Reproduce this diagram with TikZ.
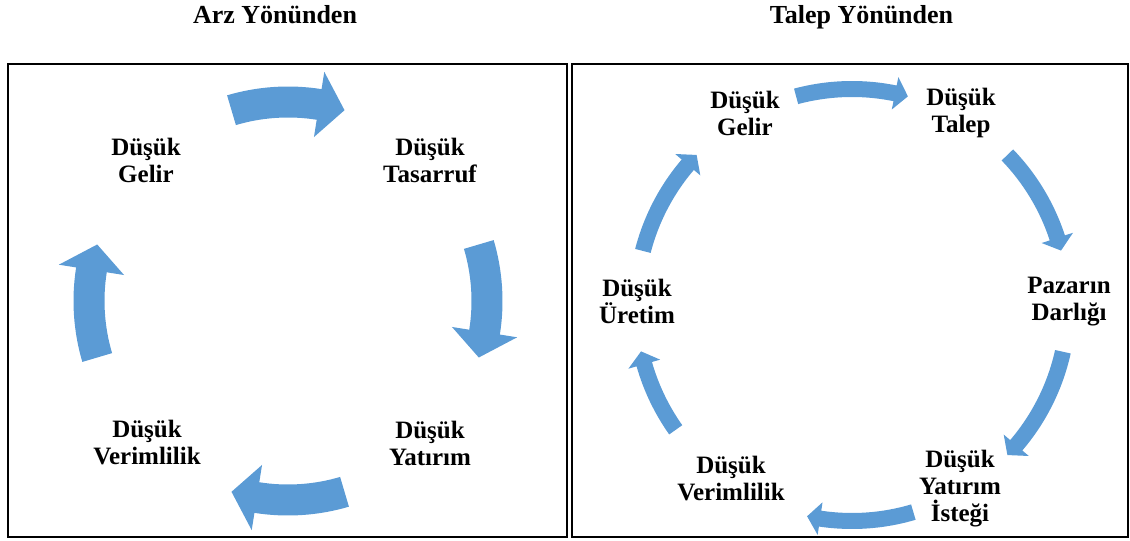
\documentclass[tikz,border=0pt]{standalone}
\usepackage{fontspec}
\setmainfont{Liberation Serif}

\definecolor{cycleblue}{RGB}{91,155,213}

\tikzset{every picture/.style={line width=0.75pt}}
\tikzset{
  cyclearrow/.style={fill=cycleblue},
  panel/.style={draw, line width=1.5pt},
  steplabel/.style={inner sep=0.75pt, align=center, font=\bfseries\fontsize{18.75}{20.25}\selectfont},
  paneltitle/.style={inner sep=0.75pt, anchor=base, font=\bfseries\fontsize{19.5}{21}\selectfont}
}

% curved block arrow round a centre: #1 centre, #2 radius, #3 tail angle, #4 tip angle,
% #5 half band, #6 half head, #7 angle taken by the head
\newcommand{\arcarrow}[7]{%
  \fill[cyclearrow, shift={(#1)}] ({#3}:{#2+#5}) arc[start angle={#3}, end angle={#4-#7}, radius={#2+#5}]
    -- ({#4-#7}:{#2+#6}) -- ({#4}:{#2}) -- ({#4-#7}:{#2-#6}) -- ({#4-#7}:{#2-#5})
    arc[start angle={#4-#7}, end angle={#3}, radius={#2-#5}] -- cycle;}

\begin{document}
\begin{tikzpicture}[x=0.75pt,y=0.75pt,yscale=-1,xscale=1]
\useasboundingbox (0,0) rectangle (1130,541);

% Titles
\node[paneltitle] (arztitle) at (275,24) {Arz Yönünden};
\node[paneltitle] (taleptitle) at (861.5,24) {Talep Yönünden};

%Shape: Rectangle (both panels)
\draw[panel] (8,64) rectangle (567,537);
\draw[panel] (572,64) rectangle (1128,537);

% --- left cycle ---
\coordinate (arz) at (288,301);
\foreach \a in {270,0,90,180}
  \arcarrow{arz}{199}{\a-16.5}{\a+16.5}{15.5}{33}{7.5};

% Text Node
\node[steplabel] (gelirA) at (146,160) {Düşük\\Gelir};
\node[steplabel] (tasarruf) at (430,160) {Düşük\\Tasarruf};
\node[steplabel] (yatirimA) at (430,443) {Düşük\\Yatırım};
\node[steplabel] (verimA) at (147,443) {Düşük\\Verimlilik};

% --- right cycle ---
\coordinate (talep) at (852,305);
\foreach \from/\to in {255/285, 316/345.4, 12.5/44, 73.5/102, 144.7/167.6, 194.5/224}
  \arcarrow{talep}{216}{\from}{\to}{8}{16.5}{3.5};

% Text Node
\node[steplabel] (gelirB) at (745,113) {Düşük\\Gelir};
\node[steplabel] (dtalep) at (961,113) {Düşük\\Talep};
\node[steplabel] (pazar) at (1069,302) {Pazarın\\Darlığı};
\node[steplabel] (yatirimB) at (960,489) {Düşük\\Yatırım\\İsteği};
\node[steplabel] (verimB) at (731,479) {Düşük\\Verimlilik};
\node[steplabel] (uretim) at (637,301) {Düşük\\Üretim};

\end{tikzpicture}
\end{document}
